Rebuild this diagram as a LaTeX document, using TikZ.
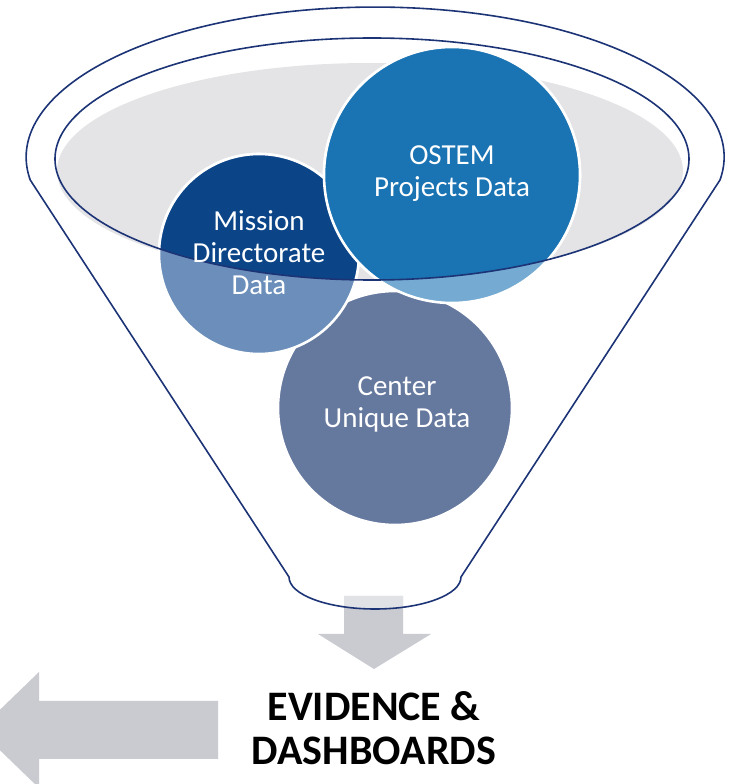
\documentclass[tikz,border=0pt]{standalone}
\usepackage{fontspec}
\setmainfont{Carlito}
\usepackage{tikz}
\usetikzlibrary{positioning}

\definecolor{funnelline}{RGB}{28,52,118}
\definecolor{bowlgray}{RGB}{228,228,231}
\definecolor{mdblue}{RGB}{11,69,136}
\definecolor{mdlight}{RGB}{107,143,186}
\definecolor{ostemblue}{RGB}{26,115,178}
\definecolor{ostemlight}{RGB}{117,170,210}
\definecolor{centerblue}{RGB}{101,120,158}
\definecolor{arrowgray}{RGB}{201,203,209}
\definecolor{arrowlight}{RGB}{225,226,230}

\tikzset{
  bubble/.style={draw=white, line width=1.3pt},
  bubbletext/.style={text=white, align=center, font=\fontsize{14.5}{16}\selectfont},
  rim/.style={draw=funnelline, line width=0.8pt}
}

\begin{document}
\begin{tikzpicture}[x=0.5pt, y=0.5pt]
        \clip (0,0) rectangle (732,784);

        % Bowl inside the funnel
        \fill[bowlgray] (370,613) ellipse [x radius=313, y radius=108];

        % Bubbles (part seen through the funnel wall)
        \filldraw[bubble, fill=centerblue] (395,376) circle (117);
        \filldraw[bubble, fill=mdlight] (259,530) circle (100);
        \filldraw[bubble, fill=ostemlight] (452,609) circle (128);

        % Bubbles (part inside the rim)
        \begin{scope}
          \clip (372,625) ellipse [x radius=317, y radius=121];
          \filldraw[bubble, fill=mdblue] (259,530) circle (100);
          \filldraw[bubble, fill=ostemblue] (452,609) circle (128);
        \end{scope}

        % Arrow out of the funnel
        \fill[arrowgray] (344,188) -- (403,188) -- (403,150) -- (431,150)
          -- (374,115) -- (318,150) -- (344,150) -- cycle;
        \begin{scope}
          \clip (720,604) arc[start angle=-8.8, end angle=188.8, x radius=349, y radius=150]
            -- (289,207) arc[start angle=180, end angle=360, x radius=86, y radius=32] -- cycle;
          \fill[arrowlight] (344,188) rectangle (403,150);
        \end{scope}

        % Arrow to the left
        \fill[arrowgray] (218,83) -- (39,83) -- (39,112) -- (-21,54)
          -- (39,-4) -- (39,25) -- (218,25) -- cycle;

        % Rim and funnel outline
        \draw[rim] (372,625) ellipse [x radius=317, y radius=121];
        \draw[rim] (720,604) arc[start angle=-8.8, end angle=188.8, x radius=349, y radius=150]
          -- (289,207) arc[start angle=180, end angle=360, x radius=86, y radius=32] -- cycle;

        % Texts
        \node[bubbletext] (ostem) at (452,610) {OSTEM\\Projects Data};
        \node[bubbletext] (mission) at (259,531) {Mission\\Directorate\\Data};
        \node[bubbletext] (centre) at (397,380) {Center\\Unique Data};
        \node[font=\bfseries\fontsize{21}{22}\selectfont, align=center] (evidence) at (374,56)
          {EVIDENCE \&\\DASHBOARDS};
      \end{tikzpicture}
\end{document}
